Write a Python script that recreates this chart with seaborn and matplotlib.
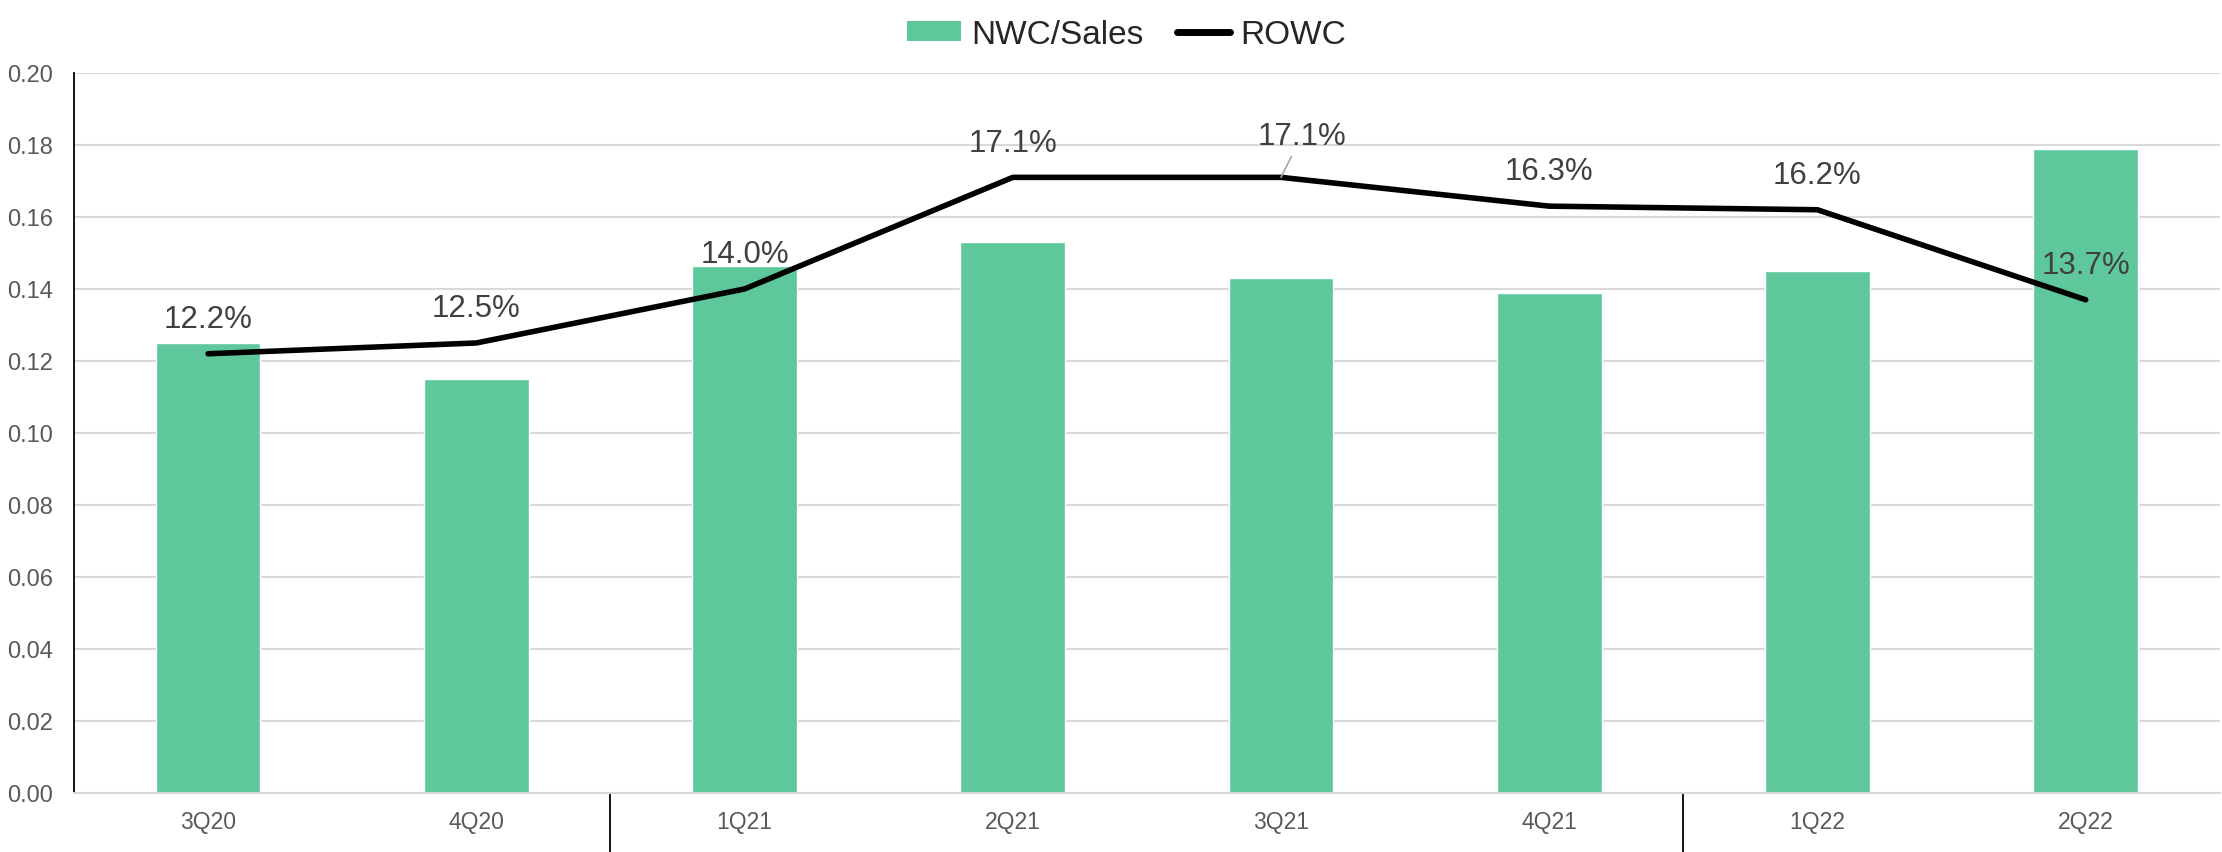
import numpy as np
import pandas as pd
import matplotlib
matplotlib.use("Agg")
import matplotlib.pyplot as plt
from matplotlib.lines import Line2D
from matplotlib.patches import Patch
import seaborn as sns

# Chart data
quarters = ["3Q20", "4Q20", "1Q21", "2Q21", "3Q21", "4Q21", "1Q22", "2Q22"]
nwc_sales = [0.125, 0.115, 0.1465, 0.153, 0.143, 0.139, 0.145, 0.179]
rowc = [0.122, 0.125, 0.140, 0.171, 0.171, 0.163, 0.162, 0.137]
rowc_labels = ["12.2%", "12.5%", "14.0%", "17.1%", "17.1%", "16.3%", "16.2%", "13.7%"]
y_ticks = [0.00, 0.02, 0.04, 0.06, 0.08, 0.10, 0.12, 0.14, 0.16, 0.18, 0.20]
year_breaks = [1.5, 5.5]

BAR_COLOR = "#5ec89c"
GRID_COLOR = "#d9d9d9"
TEXT_COLOR = "#404040"
TICK_COLOR = "#595959"

sns.set_theme(style="white")
plt.rcParams["font.family"] = ["Liberation Sans", "DejaVu Sans"]

df = pd.DataFrame({"quarter": quarters, "nwc": nwc_sales, "rowc": rowc})
df["pos"] = np.arange(len(df))

fig = plt.figure(figsize=(22.22, 8.53), dpi=100)
ax = fig.add_axes([0.0333, 0.0692, 0.9657, 0.8441])

sns.barplot(data=df, x="quarter", y="nwc", color=BAR_COLOR, width=0.39,
            saturation=1, ax=ax, zorder=2)
sns.lineplot(data=df, x="pos", y="rowc", color="black", linewidth=4,
             ax=ax, zorder=3)

# data labels for ROWC (3Q21 one is pushed aside with a leader line)
for i, (val, lab) in enumerate(zip(rowc, rowc_labels)):
    if i == 4:
        ax.annotate(lab, xy=(i, val), xytext=(15, 30), textcoords="offset points",
                    ha="center", va="center", fontsize=22.5, color=TEXT_COLOR,
                    arrowprops=dict(arrowstyle="-", color="#a6a6a6", lw=1.2,
                                    shrinkA=2, shrinkB=0))
    else:
        ax.annotate(lab, xy=(i, val), xytext=(0, 25), textcoords="offset points",
                    ha="center", va="center", fontsize=22.5, color=TEXT_COLOR)

ax.set_xlim(-0.5, len(quarters) - 0.5)
ax.set_ylim(0, 0.2)
ax.set_yticks(y_ticks)
ax.set_yticklabels([f"{t:.2f}" for t in y_ticks])
ax.set_xlabel("")
ax.set_ylabel("")
ax.yaxis.grid(True, color=GRID_COLOR, linewidth=1.5, zorder=0)
ax.set_axisbelow(True)
ax.tick_params(axis="both", length=0, labelcolor=TICK_COLOR)
ax.tick_params(axis="y", pad=15, labelsize=17)
ax.tick_params(axis="x", pad=12, labelsize=16.5)

for side in ["top", "right"]:
    ax.spines[side].set_visible(False)
ax.spines["left"].set_color("black")
ax.spines["left"].set_linewidth(1.3)
ax.spines["bottom"].set_color(GRID_COLOR)
ax.spines["bottom"].set_linewidth(1.5)

# year separators below the axis
for xb in year_breaks:
    ax.plot([xb, xb], [0, -0.09], color="black", linewidth=1.3,
            transform=ax.get_xaxis_transform(), clip_on=False)

handles = [Patch(facecolor=BAR_COLOR, edgecolor="none", label="NWC/Sales"),
           Line2D([0], [0], color="black", linewidth=5, label="ROWC")]
fig.legend(handles=handles, loc="upper center", bbox_to_anchor=(0.507, 1.012),
           ncol=2, frameon=False, fontsize=24, handlelength=1.6,
           handleheight=0.55, columnspacing=1.0, handletextpad=0.3)

fig.savefig("out.png", dpi=100)
